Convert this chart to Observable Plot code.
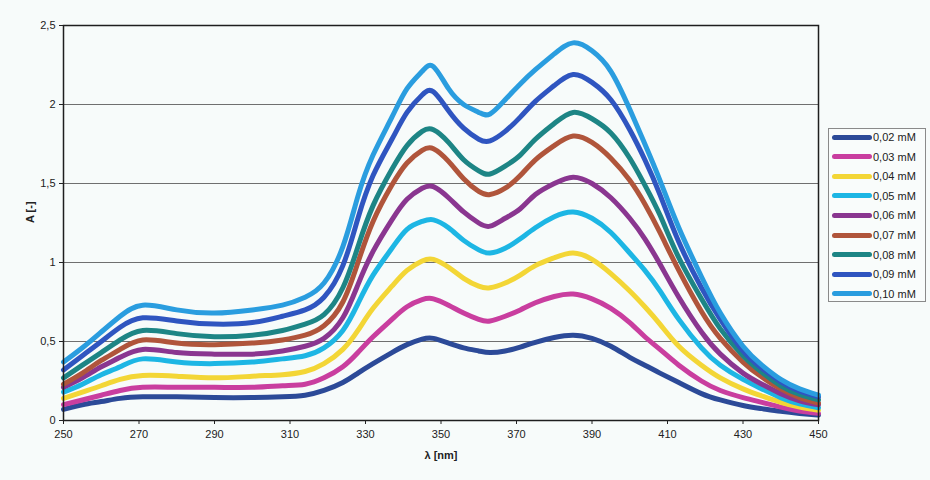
<!DOCTYPE html>
<html>
<head>
<meta charset="utf-8">
<script src="https://cdn.jsdelivr.net/npm/d3@7"></script>
<script src="https://cdn.jsdelivr.net/npm/@observablehq/plot@0.6"></script>
<style>
  html, body { margin: 0; padding: 0; background: #f7fbfa; }
  #wrap { position: relative; width: 930px; height: 480px; font-family: "Liberation Sans", Arial, sans-serif; }
  #legend { position: absolute; left: 828px; top: 128px; width: 98px; height: 174px; box-sizing: border-box;
            border: 1px solid #8a8a8a; background: #f9fcfb; }
  .row { position: absolute; left: 3px; height: 14px; display: flex; align-items: center; font-size: 11px; color: #222; }
  .sw { width: 40px; height: 5px; border-radius: 3px; margin-right: 1px; }
</style>
</head>
<body>
<div id="wrap"><div id="legend"></div></div>
<script>
const wavelengths = [250, 255, 260, 265, 271, 280, 290, 300, 308, 314, 319, 324, 328, 332, 337, 341, 345, 348, 352, 356, 360, 363, 367, 371, 375, 380, 385, 390, 395, 400, 404, 408, 413, 419, 424, 430, 435, 440, 445, 450];

const s002 = [0.07, 0.10, 0.12, 0.14, 0.15, 0.15, 0.145, 0.145, 0.15, 0.16, 0.19, 0.24, 0.30, 0.36, 0.43, 0.48, 0.515, 0.52, 0.49, 0.46, 0.44, 0.43, 0.44, 0.465, 0.495, 0.525, 0.54, 0.52, 0.47, 0.40, 0.35, 0.30, 0.24, 0.17, 0.13, 0.095, 0.075, 0.058, 0.045, 0.035];
const s003 = [0.10, 0.13, 0.16, 0.19, 0.21, 0.21, 0.21, 0.21, 0.22, 0.23, 0.27, 0.34, 0.43, 0.53, 0.64, 0.72, 0.765, 0.77, 0.73, 0.68, 0.64, 0.63, 0.66, 0.70, 0.745, 0.785, 0.80, 0.77, 0.71, 0.62, 0.53, 0.45, 0.35, 0.25, 0.19, 0.145, 0.115, 0.085, 0.06, 0.045];
const s004 = [0.14, 0.18, 0.22, 0.26, 0.285, 0.28, 0.27, 0.28, 0.29, 0.31, 0.36, 0.45, 0.57, 0.71, 0.85, 0.95, 1.01, 1.02, 0.97, 0.90, 0.85, 0.84, 0.87, 0.92, 0.98, 1.03, 1.06, 1.02, 0.93, 0.82, 0.72, 0.61, 0.47, 0.35, 0.27, 0.20, 0.155, 0.115, 0.085, 0.065];
const s005 = [0.18, 0.23, 0.29, 0.34, 0.39, 0.37, 0.36, 0.37, 0.39, 0.41, 0.46, 0.57, 0.74, 0.92, 1.09, 1.21, 1.26, 1.27, 1.22, 1.14, 1.08, 1.06, 1.09, 1.15, 1.22, 1.29, 1.32, 1.28, 1.19, 1.06, 0.95, 0.82, 0.64, 0.46, 0.35, 0.26, 0.20, 0.145, 0.105, 0.08];
const s006 = [0.21, 0.27, 0.34, 0.40, 0.45, 0.43, 0.42, 0.42, 0.44, 0.47, 0.52, 0.65, 0.86, 1.07, 1.27, 1.40, 1.47, 1.48, 1.41, 1.32, 1.25, 1.23, 1.28, 1.34, 1.43, 1.50, 1.54, 1.50, 1.41, 1.28, 1.15, 0.99, 0.78, 0.56, 0.42, 0.30, 0.23, 0.17, 0.125, 0.10];
const s007 = [0.23, 0.30, 0.38, 0.45, 0.51, 0.49, 0.48, 0.49, 0.51, 0.54, 0.60, 0.75, 1.00, 1.26, 1.49, 1.63, 1.71, 1.72, 1.64, 1.53, 1.45, 1.43, 1.47, 1.55, 1.65, 1.74, 1.80, 1.76, 1.66, 1.52, 1.37, 1.19, 0.95, 0.69, 0.52, 0.37, 0.275, 0.20, 0.145, 0.11];
const s008 = [0.27, 0.35, 0.43, 0.51, 0.57, 0.55, 0.53, 0.54, 0.57, 0.61, 0.67, 0.84, 1.10, 1.36, 1.59, 1.74, 1.83, 1.84, 1.76, 1.65, 1.58, 1.56, 1.61, 1.68, 1.78, 1.88, 1.95, 1.91, 1.82, 1.66, 1.49, 1.30, 1.03, 0.77, 0.58, 0.41, 0.305, 0.22, 0.165, 0.13];
const s009 = [0.32, 0.41, 0.50, 0.59, 0.65, 0.63, 0.61, 0.62, 0.66, 0.70, 0.78, 0.98, 1.28, 1.55, 1.78, 1.95, 2.06, 2.08, 1.96, 1.85, 1.78, 1.77, 1.83, 1.92, 2.02, 2.12, 2.19, 2.14, 2.03, 1.84, 1.65, 1.43, 1.13, 0.84, 0.64, 0.44, 0.33, 0.245, 0.185, 0.15];
const s010 = [0.37, 0.46, 0.56, 0.66, 0.73, 0.70, 0.68, 0.70, 0.73, 0.78, 0.87, 1.10, 1.42, 1.68, 1.92, 2.10, 2.21, 2.24, 2.10, 2.00, 1.95, 1.94, 2.03, 2.13, 2.22, 2.32, 2.39, 2.34, 2.21, 1.97, 1.75, 1.52, 1.22, 0.91, 0.68, 0.47, 0.35, 0.26, 0.20, 0.16];

const seriesLabels = ["0,02 mM", "0,03 mM", "0,04 mM", "0,05 mM", "0,06 mM", "0,07 mM", "0,08 mM", "0,09 mM", "0,10 mM"];
const seriesValues = [s002, s003, s004, s005, s006, s007, s008, s009, s010];
const seriesColors = ["#2c4a98", "#c93e9f", "#f3d636", "#1db6e4", "#8a3690", "#b0553b", "#1d8585", "#2f55c0", "#2a9ddf"];

const yTicks = [0, 0.5, 1, 1.5, 2, 2.5];
const xTicks = [250, 270, 290, 310, 330, 350, 370, 390, 410, 430, 450];

const rows = [];
seriesValues.forEach((vals, i) => {
  vals.forEach((v, j) => rows.push({wl: wavelengths[j], a: v, series: seriesLabels[i]}));
});

const comma = d => String(d).replace(".", ",");

const chart = Plot.plot({
  width: 930,
  height: 480,
  marginLeft: 63,
  marginRight: 112,
  marginTop: 25,
  marginBottom: 60,
  style: {background: "transparent", fontFamily: "'Liberation Sans', Arial, sans-serif", fontSize: "11px", color: "#222"},
  x: {domain: [250, 450]},
  y: {domain: [0, 2.5]},
  color: {domain: seriesLabels, range: seriesColors},
  marks: [
    Plot.gridY(yTicks.filter(d => d > 0 && d < 2.5), {stroke: "#6f6f6f", strokeOpacity: 1, strokeWidth: 1}),
    Plot.line(rows, {x: "wl", y: "a", z: "series", stroke: "series", strokeWidth: 5, curve: "natural", strokeLinejoin: "round", strokeLinecap: "round"}),
    Plot.frame({stroke: "#1e1e1e", strokeWidth: 1.5}),
    Plot.axisX(xTicks, {tickSize: 4, tickPadding: 6, tickFormat: d => String(d), label: null, stroke: "#222", fill: "#222"}),
    Plot.axisY(yTicks, {tickSize: 4, tickPadding: 4, tickFormat: comma, label: null, stroke: "#222", fill: "#222"}),
    Plot.text(["A [-]"], {frameAnchor: "left", dx: -33, rotate: -90, fontWeight: "bold", fontSize: 11, fill: "#222"}),
    Plot.text(["λ [nm]"], {frameAnchor: "bottom", dy: 38, fontWeight: "bold", fontSize: 11, fill: "#222"})
  ]
});

const wrap = document.getElementById("wrap");
wrap.insertBefore(chart, wrap.firstChild);

const legend = document.getElementById("legend");
seriesLabels.forEach((lab, i) => {
  const row = document.createElement("div");
  row.className = "row";
  row.style.top = (1 + i * 19.6) + "px";
  const sw = document.createElement("div");
  sw.className = "sw";
  sw.style.background = seriesColors[i];
  const t = document.createElement("span");
  t.textContent = lab;
  row.appendChild(sw);
  row.appendChild(t);
  legend.appendChild(row);
});
</script>
</body>
</html>
